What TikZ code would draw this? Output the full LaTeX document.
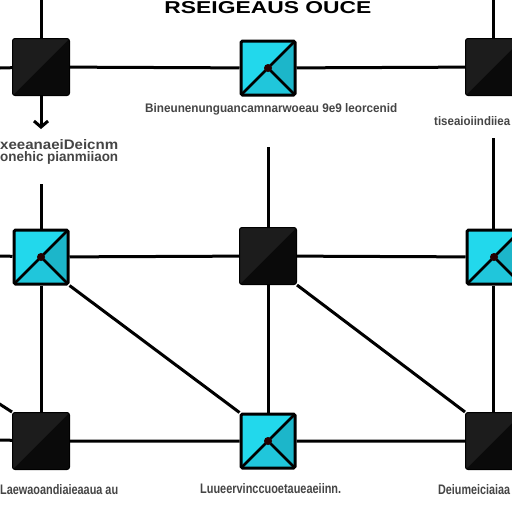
\documentclass[tikz,border=0pt]{standalone}
\usepackage{fontspec}
\setmainfont{Liberation Sans}
\usetikzlibrary{arrows.meta,backgrounds}
\definecolor{blkfill}{HTML}{0A0A0A}
\definecolor{blkshade}{HTML}{1C1C1C}
\definecolor{cyanA}{HTML}{22D8EC}
\definecolor{cyanB}{HTML}{1CB6CA}
\definecolor{cyanC}{HTML}{20C6DB}
\definecolor{txtgray}{HTML}{454545}
\newcommand{\fitw}[3]{\resizebox{#1}{#2}{#3}}
\tikzset{
  ln/.style={line width=3pt, draw=black},
  blk/.style={rectangle, rounded corners=2.5pt, fill=blkfill, draw=black, line width=1pt,
    minimum size=57pt, inner sep=0pt,
    path picture={\fill[blkshade] (path picture bounding box.north west) -- (path picture bounding box.north east) -- (path picture bounding box.south west) -- cycle;}},
  cyn/.style={rectangle, rounded corners=1.5pt, draw=black, line width=3pt, fill=cyanA,
    minimum size=54pt, inner sep=0pt,
    path picture={
      \fill[cyanC] (path picture bounding box.south west) -- (path picture bounding box.center) -- (path picture bounding box.south east) -- cycle;
      \fill[cyanB] (path picture bounding box.north east) -- (path picture bounding box.center) -- (path picture bounding box.south east) -- cycle;
      \draw[line width=2.5pt] (path picture bounding box.south west) -- (path picture bounding box.north east);
      \draw[line width=2.5pt] (path picture bounding box.center) -- (path picture bounding box.south east);
      \fill[black!85!red] (path picture bounding box.center) circle (4pt);}},
  lbl/.style={inner sep=0pt, anchor=south west, text=txtgray, font=\bfseries},
}
\begin{document}
\begin{tikzpicture}[x=1pt,y=-1pt]
\useasboundingbox (0,0) rectangle (512,512);
\clip (0,0) rectangle (512,512);
% nodes
\node[blk] (a1) at (41,67) {};
\node[cyn] (b1) at (268,68) {};
\node[blk] (c1) at (494,67) {};
\node[cyn] (a2) at (41,257) {};
\node[blk] (b2) at (268,256) {};
\node[cyn] (c2) at (494,257) {};
\node[blk] (a3) at (41,441) {};
\node[cyn] (b3) at (268,441) {};
\node[blk] (c3) at (494,441) {};
% free ends
\coordinate (r1l) at (0,68); \coordinate (r1r) at (512,68);
\coordinate (r2l) at (0,256); \coordinate (r2r) at (512,256);
\coordinate (r3l) at (0,440); \coordinate (r3r) at (512,440);
\coordinate (t1) at (41,0); \coordinate (t3) at (493,0);
\coordinate (arr) at (41,129);
\coordinate (m2) at (268,147); \coordinate (m3) at (493,138); \coordinate (m1) at (41,184);
\coordinate (dl) at (-2,403);
\begin{scope}[on background layer]
\fill[white] (0,0) rectangle (512,512);
\draw[ln] (r1l) -- (a1) -- (b1) -- (c1) -- (r1r);
\draw[ln] (r2l) -- (a2) -- (b2) -- (c2) -- (r2r);
\draw[ln] (r3l) -- (a3) -- (b3) -- (c3) -- (r3r);
\draw[ln] (t1) -- (a1.north);
\draw[ln] (t3) -- (c1.north -| t3);
\draw[ln] (m1) -- (a2.north);
\draw[ln] (m2) -- (b2.north);
\draw[ln] (m3) -- (c2.north -| m3);
\draw[ln] (a2.south) -- (a3.north);
\draw[ln] (b2.south) -- (b3.north);
\draw[ln] (c2.south -| m3) -- (c3.north -| m3);
\draw[ln] (a2.south east) -- (b3.north west);
\draw[ln] (b2.south east) -- (c3.north west);
\draw[ln] (dl) -- (a3.north west);
\end{scope}
\draw[ln, -{Straight Barb[length=6pt,width=14pt,line width=3pt]}] (a1.south) -- (arr);
% texts
\node[inner sep=0pt, anchor=north] (title) at (268,1) {\fitw{207pt}{12pt}{\bfseries RSEIGEAUS OUCE}};
\node[lbl] (l1) at (145,115) {\fitw{252pt}{9pt}{Bineunenunguancamnarwoeau 9e9 leorcenid}};
\node[lbl] (l2) at (434,126) {\fitw{76pt}{9pt}{tiseaioiindiiea}};
\node[lbl] (l3) at (0,150) {\fitw{118pt}{10pt}{xeeanaeiDeicnm}};
\node[lbl] (l4) at (0,165) {\fitw{118pt}{10pt}{onehic pianmiiaon}};
\node[lbl] (l5) at (0,495) {\fitw{118pt}{10pt}{Laewaoandiaieaaua au}};
\node[lbl] (l6) at (200,494) {\fitw{141pt}{10pt}{Luueervinccuoetaueaeiinn.}};
\node[lbl] (l7) at (438,495) {\fitw{72pt}{10pt}{Deiumeiciaiaa}};
\end{tikzpicture}
\end{document}
